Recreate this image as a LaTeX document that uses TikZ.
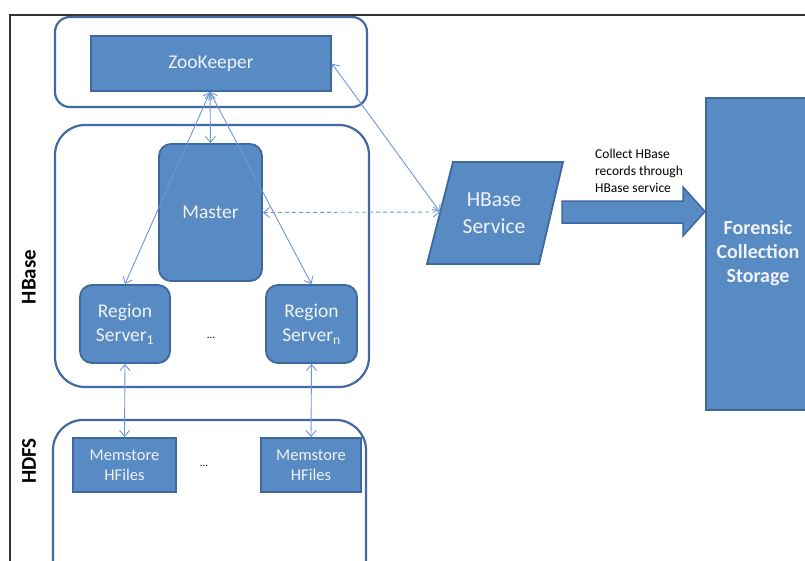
\documentclass[tikz,border=0pt]{standalone}
\usepackage{fontspec}
\setmainfont{Carlito}
\usetikzlibrary{arrows.meta}
\definecolor{boxfill}{RGB}{88,138,196}
\definecolor{boxline}{RGB}{62,104,158}
\definecolor{cline}{RGB}{66,106,160}
\definecolor{aline}{RGB}{110,152,210}
\definecolor{txt}{RGB}{240,242,246}
\tikzset{
  container/.style={draw=cline,line width=2.2pt,fill=white},
  bluebox/.style={draw=boxline,line width=1.8pt,fill=boxfill,text=txt,align=center,inner sep=0pt},
  conn/.style={draw=aline,line width=0.9pt,{Straight Barb[length=6pt,width=10pt]}-{Straight Barb[length=6pt,width=10pt]}},
  side/.style={rotate=90,font=\fontsize{21}{24}\selectfont\bfseries}
}
\begin{document}
\begin{tikzpicture}[x=1pt,y=-1pt]
\useasboundingbox (0,0) rectangle (805,560);
\clip (0,0) rectangle (805,560);
% frame
\draw[line width=1.3pt,black!80] (10,600) -- (10,15) -- (820,15);
% containers
\draw[container,rounded corners=15pt] (55,17) rectangle (367,107);
\draw[container,rounded corners=30pt] (55,125) rectangle (369,387);
\draw[container,rounded corners=30pt] (53,420) rectangle (366,620);
% labels
\node[side] (lhbase) at (29,277) {HBase};
\node[side] (lhdfs) at (29,461) {HDFS};
% boxes
\node[bluebox,minimum width=240pt,minimum height=55pt,font=\fontsize{19.5}{22}\selectfont] (zk) at (211,63.5) {ZooKeeper};
\node[bluebox,rounded corners=12pt,minimum width=103pt,minimum height=137pt,font=\fontsize{19.5}{22}\selectfont] (master) at (210.5,212.5) {Master};
\node[bluebox,rounded corners=12pt,minimum width=90pt,minimum height=78pt,font=\fontsize{19.5}{24}\selectfont] (rs1) at (125,324) {Region\\Server\textsubscript{1}};
\node[bluebox,rounded corners=12pt,minimum width=91pt,minimum height=78pt,font=\fontsize{19.5}{24}\selectfont] (rsn) at (311.5,324) {Region\\Server\textsubscript{n}};
\node[font=\fontsize{11}{12}\selectfont] (dots1) at (211,338) {...};
\node[bluebox,minimum width=103pt,minimum height=54pt,font=\fontsize{16.5}{20}\selectfont] (ms1) at (124.5,465) {Memstore\\HFiles};
\node[bluebox,minimum width=100pt,minimum height=54pt,font=\fontsize{16.5}{20}\selectfont] (msn) at (311,465) {Memstore\\HFiles};
\node[font=\fontsize{11}{12}\selectfont] (dots2) at (204,466) {...};
% HBase service parallelogram
\draw[draw=boxline,line width=1.8pt,fill=boxfill] (453,162) -- (563,162) -- (539,264) -- (427,264) -- cycle;
\node[text=txt,align=center,font=\fontsize{21.5}{27}\selectfont] (svc) at (494,213) {HBase\\Service};
\coordinate (svcL) at (440,212);
% forensic storage
\node[bluebox,anchor=north west,minimum width=110pt,minimum height=312pt] (fcs) at (705,97) {};
\node[text=txt,align=center,font=\fontsize{20}{24}\selectfont\bfseries] (fcst) at (758,253) {Forensic\\Collection\\Storage};
% block arrow
\draw[draw=boxline,line width=1.5pt,fill=boxfill] (562,201) -- (683,201) -- (683,187) -- (705,211.5) -- (683,236) -- (683,223) -- (562,223) -- cycle;
\node[anchor=north west,align=left,font=\fontsize{13.5}{17}\selectfont,inner sep=0pt] (lbl) at (595,149) {Collect HBase\\records through\\HBase service};
% connectors
\coordinate (zkb) at (210,92);
\path[conn] (zkb) -- (master.north);
\path[conn] (zkb) -- (rs1.north);
\path[conn] (zkb) -- (rsn.north);
\path[conn] (zk.east) -- (svcL);
\path[conn,dashed,dash pattern=on 4pt off 3pt] (master.east) -- (svcL);
\path[conn] (rs1.south) -- (ms1.north);
\path[conn] (rsn.south) -- (msn.north);
\end{tikzpicture}
\end{document}
